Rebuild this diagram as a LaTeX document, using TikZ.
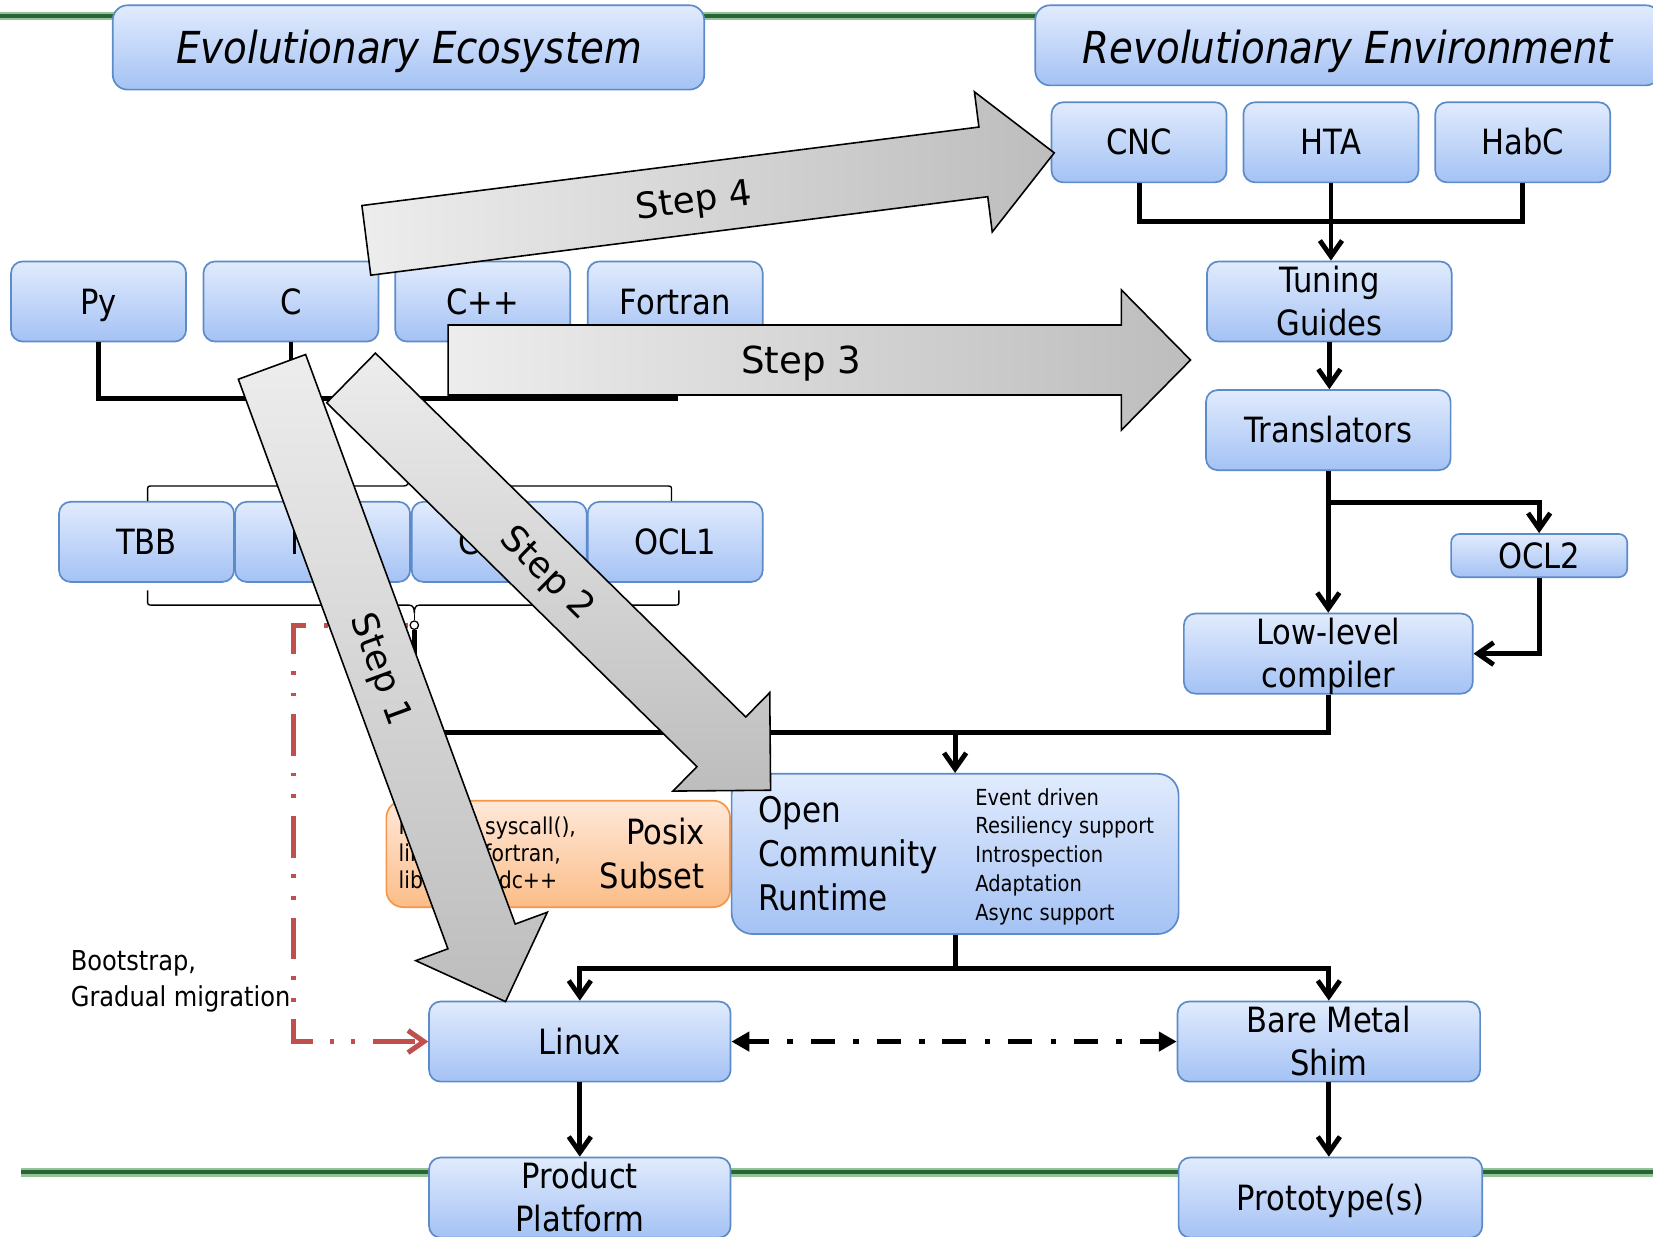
\documentclass[tikz,border=0pt]{standalone}
\usepackage{fontspec}
\setmainfont{DejaVu Sans}[FakeStretch=0.88]
\newfontfamily\stepfont{DejaVu Sans}
\usetikzlibrary{arrows.meta}

\definecolor{boxtop}{HTML}{E1EBFD}
\definecolor{boxbot}{HTML}{A4C2F4}
\definecolor{boxline}{HTML}{5B8BC9}
\definecolor{postop}{HTML}{FFE8D9}
\definecolor{posbot}{HTML}{FBBD88}
\definecolor{posline}{HTML}{F79646}
\definecolor{migred}{HTML}{C0504D}
\definecolor{grdark}{HTML}{2A6436}
\definecolor{grlight}{HTML}{93C497}
\definecolor{stepA}{HTML}{EDEDED}
\definecolor{stepB}{HTML}{BDBDBD}

\newcommand\fs[2]{\fontsize{#1}{#2}\selectfont}
\newcommand\stackc[1]{\begin{tabular}[t]{@{}c@{}}#1\end{tabular}}
\newcommand\stackl[1]{\begin{tabular}[t]{@{}l@{}}#1\end{tabular}}
\newcommand\stackr[1]{\begin{tabular}[t]{@{}r@{}}#1\end{tabular}}

\tikzset{
  box/.style={draw=boxline, line width=1.6pt, rounded corners=11pt,
    top color=boxtop, bottom color=boxbot, inner sep=0pt,
    minimum width=166pt, minimum height=76pt,
    font=\fs{33}{41}, text height=24pt, text depth=0pt},
  twoline/.style={text depth=41pt},
  titlebox/.style={draw=boxline, line width=1.6pt, rounded corners=14pt,
    top color=boxtop, bottom color=boxbot},
  titletext/.style={anchor=base, inner sep=0pt, font=\itshape\fs{41.8}{48}},
  pbox/.style={draw=posline, line width=1.6pt, rounded corners=16pt,
    top color=postop, bottom color=posbot, minimum width=326pt, minimum height=101pt},
  txt/.style={inner sep=0pt},
  conn/.style={line width=4.6pt, black},
  cto/.style={-{Straight Barb[length=15pt,width=21pt]}},
  brace/.style={line width=1.3pt, black},
  ddarrow/.style={line width=5.5pt, dash pattern=on 22.8pt off 17.4pt on 5.4pt off 16.8pt,
    dash phase=3pt, {Triangle[length=17pt,width=18pt]}-{Triangle[length=17pt,width=18pt]}},
  migr/.style={migred, line width=4.8pt,
    dash pattern=on 39.5pt off 16pt on 3.5pt off 17pt on 3.5pt off 17pt, dash phase=95pt,
    -{Straight Barb[length=15pt,width=21pt]}},
  steparrow/.style={draw=black, line width=1.5pt, line join=miter},
  steplabel/.style={inner sep=0pt, font=\stepfont\fs{34}{40}, text height=24.8pt, text depth=0pt},
}

\begin{document}
\begin{tikzpicture}[x=1pt,y=-1pt]
\clip (0,0) rectangle (1568,1173);

% green rules
\draw[line width=8pt, grlight] (0,15) -- (1568,15);
\draw[line width=3.6pt, grdark] (0,15) -- (1568,15);
\draw[line width=8pt, grlight] (20,1112) -- (1568,1112);
\draw[line width=3.6pt, grdark] (20,1112) -- (1568,1112);

% titles
\node[titlebox, minimum width=561pt, minimum height=80pt] (evo) at (387.5,45) {};
\node[titletext] (evo-t) at (388,60) {Evolutionary Ecosystem};
\node[titlebox, minimum width=593pt, minimum height=76pt] (rev) at (1278.5,43) {};
\node[titletext] (rev-t) at (1278.5,60) {Revolutionary Environment};

% languages
\node[box] (py) at (93.5,286) {Py};
\node[box] (c) at (276,286) {C};
\node[box] (cpp) at (458,286) {C++};
\node[box] (fortran) at (640.5,286) {Fortran};

% libraries
\node[box] (tbb) at (139,514) {TBB};
\node[box] (mkl) at (306,514) {MKL};
\node[box] (cilk) at (473.5,514) {Cilk+};
\node[box] (ocl1) at (640.5,514) {OCL1};

% revolutionary tool chain
\node[box] (cnc) at (1080.5,135) {CNC};
\node[box] (hta) at (1262.5,135) {HTA};
\node[box] (habc) at (1444.5,135) {HabC};
\node[box, twoline, minimum width=232pt] (tuning) at (1261,286) {\stackc{Tuning\\Guides}};
\node[box, minimum width=232pt] (trans) at (1260,408) {Translators};
\node[box, minimum width=167pt, minimum height=41pt, rounded corners=8pt] (ocl2) at (1460,527) {OCL2};
\node[box, twoline, minimum width=274pt] (llc) at (1260,620) {\stackc{Low-level\\compiler}};

% runtime and platforms
\node[pbox] (posix) at (529.5,810) {};
\node[txt, anchor=base west, font=\fs{22}{25.3}] (posix-libs) at (378,792)
  {\stackl{Minimal syscall(),\\libc, libgfortran,\\libm, libstdc++}};
\node[txt, anchor=base east, font=\fs{33}{42}] (posix-name) at (668.7,800.6) {\stackr{Posix\\Subset}};
\node[box, minimum width=424pt, minimum height=152pt, rounded corners=20pt] (ocr) at (906,810) {};
\node[txt, anchor=base west, font=\fs{33.5}{42}] (ocr-name) at (719,780) {\stackl{Open\\Community\\Runtime}};
\node[txt, anchor=base west, font=\fs{21}{27.4}] (ocr-feat) at (925,763.6)
  {\stackl{Event driven\\Resiliency support\\Introspection\\Adaptation\\Async support}};
\node[box, minimum width=286pt] (linux) at (550,988) {Linux};
\node[box, twoline, minimum width=287pt] (bare) at (1260.5,988) {\stackc{Bare Metal\\Shim}};
\node[box, twoline, minimum width=286pt] (product) at (550,1136) {\stackc{Product\\Platform}};
\node[box, minimum width=288pt] (proto) at (1262,1136) {Prototype(s)};
\node[txt, anchor=base west, font=\fs{26}{34}] (boot) at (67,920.8) {\stackl{Bootstrap,\\Gradual migration}};

% junction points
\coordinate (bus) at (0,378);
\coordinate (busjoin) at (388,378);
\coordinate (bracetip) at (388,453);
\coordinate (rbus) at (0,210);
\coordinate (rt) at (393,695);
\node[circle, draw, fill=white, line width=1.2pt, minimum size=8pt, inner sep=0pt] (jn) at (393,593) {};

% language bus
\draw[conn] (py.south) |- (fortran.south |- bus) -- (fortran.south);
\draw[conn] (c.south) -- (c.south |- bus);
\draw[conn] (cpp.south) -- (cpp.south |- bus);
\draw[conn] (busjoin) -- (bracetip);

% braces round the library row
\draw[brace] (140,475) -- (140,466) .. controls (140,461) .. (145,461) -- (383,461)
  .. controls (387,461) and (388,458) .. (388,453) .. controls (388,458) and (389,461) .. (393,461)
  -- (632,461) .. controls (637,461) .. (637,466) -- (637,475);
\draw[brace] (140,560) -- (140,569) .. controls (140,574) .. (145,574) -- (388,574)
  .. controls (392,574) and (393,577) .. (393,582) .. controls (393,577) and (394,574) .. (398,574)
  -- (639,574) .. controls (644,574) .. (644,569) -- (644,560);
\draw[brace] (393,582) -- (jn.north);

% revolutionary connectors
\draw[conn] (cnc.south) |- (habc.south |- rbus) -- (habc.south);
\draw[conn, cto] (hta.south) -- (hta.south |- tuning.north);
\draw[conn, cto] (tuning.south) -- (tuning.south |- trans.north);
\draw[conn, cto] (trans.south) -- (trans.south |- llc.north);
\draw[conn, cto] ([yshift=-30pt]trans.south) -| (ocl2.north);
\draw[conn, cto] (ocl2.south) |- (llc.east);

% into and out of the runtime
\draw[conn] (jn.south) -- (rt) -| (llc.south);
\draw[conn, cto] (rt -| ocr.north) -- (ocr.north);
\draw[conn] (ocr.south) -- ++(0,32) coordinate (ob);
\draw[conn, cto] (ob) -| (linux.north);
\draw[conn, cto] (ob) -| (bare.north);
\draw[conn, cto] (linux.south) -- (product.north);
\draw[conn, cto] (bare.south) -- (bare.south |- proto.north);
\draw[ddarrow] (linux.east) -- (bare.west);
\draw[migr] (jn.west) -- ++(-110,0) |- (linux.west);

% migration steps
\begin{scope}[shift={(333,358.5)}, rotate=-44.5]
  \path[steparrow, top color=stepA, bottom color=stepB]
    (0,-33) -- (492.5,-33) -- (492.5,-65.5) -- (558,0) -- (492.5,65.5) -- (492.5,33) -- (0,33) -- cycle;
  \node[steplabel, rotate=-44.5] (s2) at (262.7,0) {Step 2};
\end{scope}
\begin{scope}[shift={(258,348)}, rotate=-69.8]
  \path[steparrow, top color=stepA, bottom color=stepB]
    (0,-34) -- (575.7,-34) -- (575.7,-66.5) -- (641.6,0) -- (575.7,66.5) -- (575.7,34) -- (0,34) -- cycle;
  \node[steplabel, rotate=-69.8] (s1) at (305,0) {Step 1};
\end{scope}
\begin{scope}[shift={(425,341.5)}]
  \path[steparrow, left color=stepA, right color=stepB]
    (0,-33.2) -- (638.7,-33.2) -- (638.7,-66.5) -- (704.3,0) -- (638.7,66.5) -- (638.7,33.2) -- (0,33.2) -- cycle;
  \node[steplabel, font=\stepfont\fs{35.3}{40}, text height=25.7pt] (s3) at (335,0) {Step 3};
\end{scope}
\begin{scope}[shift={(347.5,228)}, rotate=7.25]
  \path[steparrow, left color=stepA, right color=stepB]
    (0,-33.3) -- (590,-33.3) -- (590,-67) -- (657.8,0) -- (590,67) -- (590,33.3) -- (0,33.3) -- cycle;
  \node[steplabel, rotate=7.25] (s4) at (313,0) {Step 4};
\end{scope}
\end{tikzpicture}
\end{document}
